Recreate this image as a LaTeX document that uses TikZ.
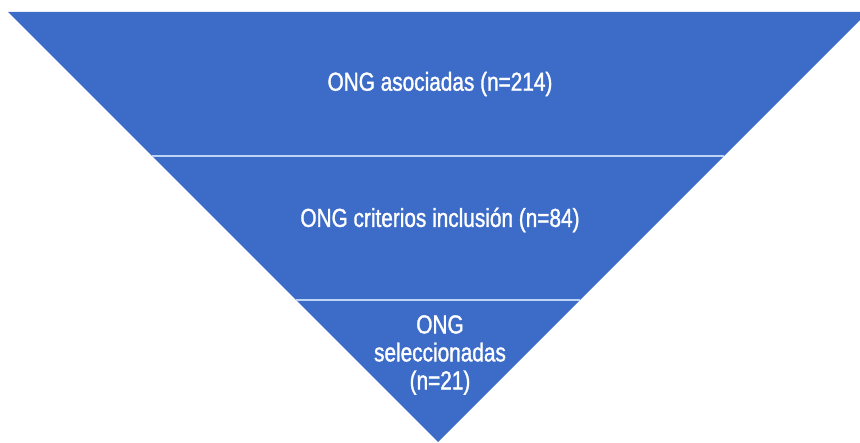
\documentclass[tikz,border=0pt]{standalone}
\usepackage{fontspec}
\setmainfont[FakeStretch=0.80,FakeBold=1.3]{Liberation Sans}
\definecolor{funnelblue}{RGB}{60,108,200}
\definecolor{seplight}{RGB}{190,212,245}
\begin{document}
\begin{tikzpicture}[x=1pt,y=-1pt,
  lbl/.style={text=white,font=\fontsize{26}{28}\selectfont,align=center,inner sep=0pt},
  sep/.style={draw=seplight,line width=2pt}]
\useasboundingbox (0,0) rectangle (860,443);
\fill[funnelblue] (8,12) -- (868,12) -- (438,442) -- cycle;
\coordinate (s1l) at (152,156);
\coordinate (s1r) at (724,156);
\coordinate (s2l) at (296,300);
\coordinate (s2r) at (580,300);
\draw[sep] (s1l) -- (s1r);
\draw[sep] (s2l) -- (s2r);
\node[lbl] (t1) at (440,84) {ONG asociadas (n=214)};
\node[lbl] (t2) at (440,220) {ONG criterios inclusión (n=84)};
\node[lbl] (t3) at (440,355) {ONG\\seleccionadas\\(n=21)};
\end{tikzpicture}
\end{document}
